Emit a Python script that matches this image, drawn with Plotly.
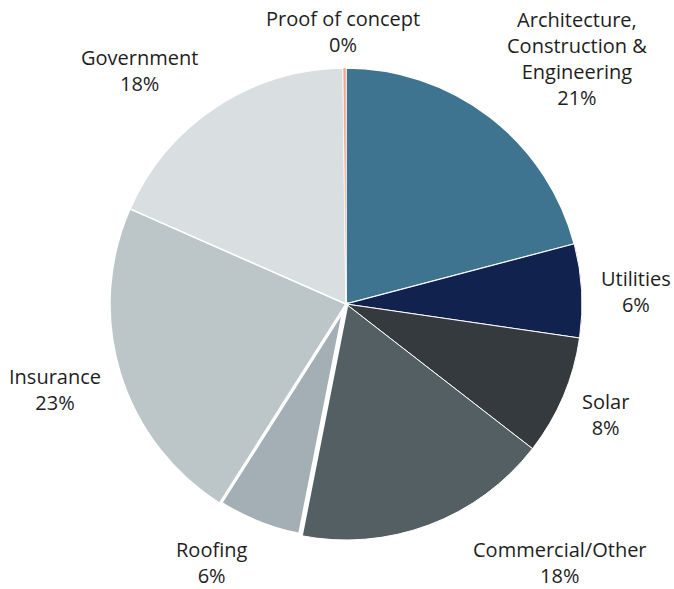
import plotly.graph_objects as go

# Share of projects by sector
sectors = [
    "Architecture,<br>Construction &<br>Engineering",
    "Utilities",
    "Solar",
    "Commercial/Other",
    "Roofing",
    "Insurance",
    "Government",
    "Proof of concept",
]
shares = [20.9, 6.4, 8.2, 17.6, 5.9, 22.6, 18.2, 0.2]
colors = ["#3e7490", "#12224f", "#343a3d", "#545f64",
          "#a3afb4", "#bcc6c9", "#d9dee1", "#f4a58a"]
border_widths = [1.5, 1, 1, 1, 5, 1.5, 1.5, 0.5]

# Figure geometry (pixels): the pie sits in a square domain
W, H = 674, 589
PIE_LEFT, PIE_TOP, PIE_SIZE = 110, 68, 472

# Label block centres in pixels, one per sector (same order as sectors)
label_centres = [(577, 59), (636, 291), (605, 415), (560, 562),
                 (211, 562), (55, 389), (139, 70), (343, 32)]

fig = go.Figure(
    go.Pie(
        labels=sectors,
        values=shares,
        sort=False,
        direction="clockwise",
        rotation=0,
        marker=dict(colors=colors, line=dict(color="white", width=border_widths)),
        textinfo="none",
        showlegend=False,
        hoverinfo="label+percent",
    )
)

total = sum(shares)
annotations = []
for name, value, (px, py) in zip(sectors, shares, label_centres):
    annotations.append(
        dict(
            text=f"{name}<br>{round(100 * value / total)}%",
            x=(px - PIE_LEFT) / PIE_SIZE,
            y=(PIE_TOP + PIE_SIZE - py) / PIE_SIZE,
            xref="paper",
            yref="paper",
            xanchor="center",
            yanchor="middle",
            align="center",
            showarrow=False,
            font=dict(family="Open Sans", size=20, color="#1e1e1e"),
        )
    )

fig.update_layout(
    width=W,
    height=H,
    margin=dict(l=PIE_LEFT, r=W - PIE_LEFT - PIE_SIZE, t=PIE_TOP,
                b=H - PIE_TOP - PIE_SIZE),
    paper_bgcolor="white",
    plot_bgcolor="white",
    annotations=annotations,
)

fig.write_html("out.html")
